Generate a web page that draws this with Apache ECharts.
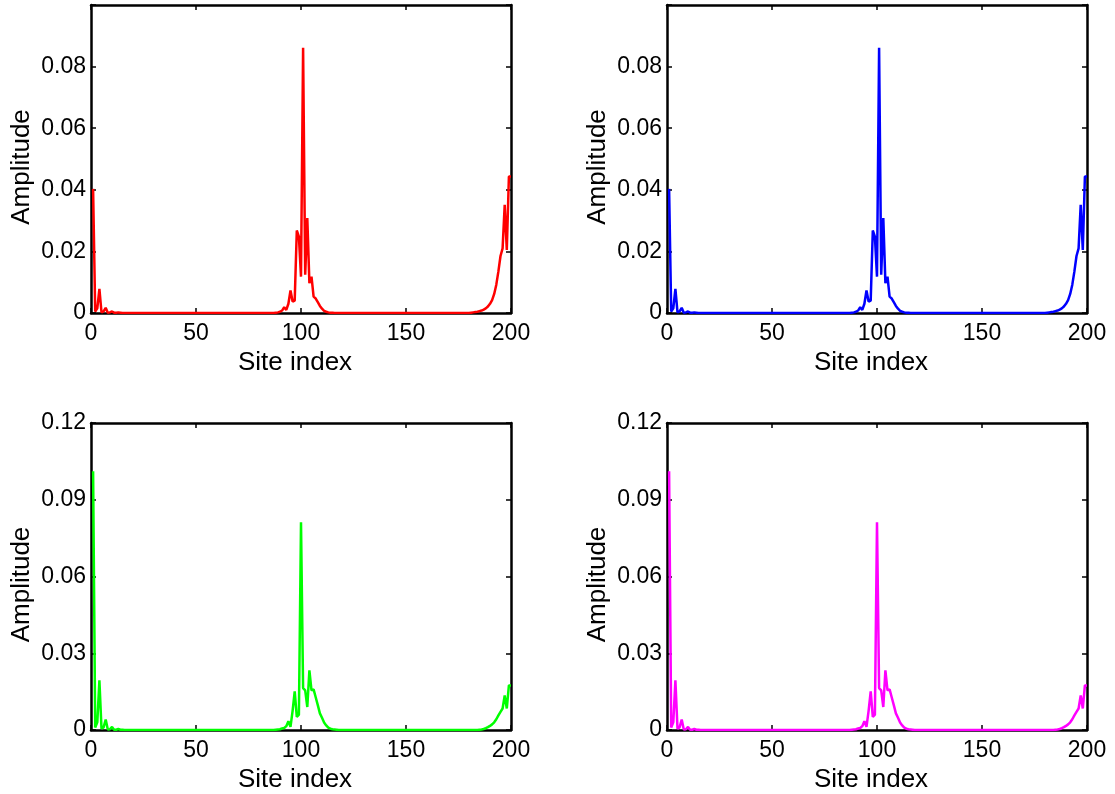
<!DOCTYPE html>
<html>
<head>
<meta charset="utf-8">
<script src="https://cdn.jsdelivr.net/npm/echarts@6/dist/echarts.min.js"></script>
<style>
    html, body { margin: 0; padding: 0; background: #fff; }
    #chart { width: 1115px; height: 794px; }
</style>
</head>
<body>
<div id="chart"></div>
<script>
    // site index 1..200
    const xTicks = [0, 50, 100, 150, 200]
    const yTicksTop = [0, 0.02, 0.04, 0.06, 0.08]
    const yTicksBottom = [0, 0.03, 0.06, 0.09, 0.12]

    // top row (red / blue share the same profile)
    const amplitudeTop = [
        0.0403, 0.0005, 0.0015, 0.0078, 0.0002, 0.0005, 0.0017, 0.0001, 0.0002, 0.0005,
        0.0001, 0.0001, 0.0002, 0.0001, 0, 0, 0, 0, 0, 0,
        0, 0, 0, 0, 0, 0, 0, 0, 0, 0,
        0, 0, 0, 0, 0, 0, 0, 0, 0, 0,
        0, 0, 0, 0, 0, 0, 0, 0, 0, 0,
        0, 0, 0, 0, 0, 0, 0, 0, 0, 0,
        0, 0, 0, 0, 0, 0, 0, 0, 0, 0,
        0, 0, 0, 0, 0, 0, 0, 0, 0, 0,
        0, 0, 0, 0, 0, 0, 0, 0.0001, 0.0002, 0.0004,
        0.0008, 0.0019, 0.0010, 0.0030, 0.0073, 0.0037, 0.0040, 0.0268, 0.0248, 0.0118,
        0.0861, 0.0124, 0.0308, 0.0097, 0.0118, 0.0053, 0.0047, 0.0035, 0.0023, 0.0014,
        0.0007, 0.0004, 0.0002, 0.0001, 0.0001, 0, 0, 0, 0, 0,
        0, 0, 0, 0, 0, 0, 0, 0, 0, 0,
        0, 0, 0, 0, 0, 0, 0, 0, 0, 0,
        0, 0, 0, 0, 0, 0, 0, 0, 0, 0,
        0, 0, 0, 0, 0, 0, 0, 0, 0, 0,
        0, 0, 0, 0, 0, 0, 0, 0, 0, 0,
        0, 0, 0, 0, 0, 0, 0, 0, 0, 0,
        0.0001, 0.0002, 0.0003, 0.0004, 0.0006, 0.0008, 0.0011, 0.0015, 0.0021, 0.0030,
        0.0042, 0.0062, 0.0092, 0.0135, 0.0185, 0.0210, 0.0351, 0.0205, 0.0443, 0.0443
    ]

    // bottom row (green / magenta share the same profile)
    const amplitudeBottom = [
        0.1011, 0.0010, 0.0030, 0.0194, 0.0005, 0.0010, 0.0041, 0.0002, 0.0003, 0.0012,
        0.0001, 0.0001, 0.0004, 0.0001, 0.0001, 0, 0, 0, 0, 0,
        0, 0, 0, 0, 0, 0, 0, 0, 0, 0,
        0, 0, 0, 0, 0, 0, 0, 0, 0, 0,
        0, 0, 0, 0, 0, 0, 0, 0, 0, 0,
        0, 0, 0, 0, 0, 0, 0, 0, 0, 0,
        0, 0, 0, 0, 0, 0, 0, 0, 0, 0,
        0, 0, 0, 0, 0, 0, 0, 0, 0, 0,
        0, 0, 0, 0, 0, 0, 0, 0.0001, 0.0002, 0.0003,
        0.0006, 0.0008, 0.0015, 0.0034, 0.0012, 0.0075, 0.0151, 0.0051, 0.0060, 0.0812,
        0.0164, 0.0155, 0.0090, 0.0233, 0.0155, 0.0159, 0.0128, 0.0097, 0.0065, 0.0048,
        0.0029, 0.0018, 0.0009, 0.0005, 0.0003, 0.0002, 0.0001, 0, 0, 0,
        0, 0, 0, 0, 0, 0, 0, 0, 0, 0,
        0, 0, 0, 0, 0, 0, 0, 0, 0, 0,
        0, 0, 0, 0, 0, 0, 0, 0, 0, 0,
        0, 0, 0, 0, 0, 0, 0, 0, 0, 0,
        0, 0, 0, 0, 0, 0, 0, 0, 0, 0,
        0, 0, 0, 0, 0, 0, 0, 0, 0, 0,
        0, 0, 0, 0, 0.0001, 0.0002, 0.0004, 0.0007, 0.0011, 0.0016,
        0.0022, 0.0030, 0.0042, 0.0057, 0.0071, 0.0084, 0.0135, 0.0084, 0.0174, 0.0174
    ]

    const panels = [
        { left: 91,  top: 5,   ticks: yTicksTop,    values: amplitudeTop,    color: '#ff0000' },
        { left: 667, top: 5,   ticks: yTicksTop,    values: amplitudeTop,    color: '#0000ff' },
        { left: 91,  top: 423, ticks: yTicksBottom, values: amplitudeBottom, color: '#00ff00' },
        { left: 667, top: 423, ticks: yTicksBottom, values: amplitudeBottom, color: '#ff00ff' }
    ]

    const font = 'Liberation Sans, Arial, Helvetica, sans-serif'
    const frame = { show: true, onZero: false, lineStyle: { color: '#000', width: 2.5 } }
    const tick = { show: true, inside: true, length: 5, lineStyle: { color: '#000', width: 1.5 } }

    const grid = [], xAxis = [], yAxis = [], series = []
    panels.forEach((p, i) => {
        const step = p.ticks[1] - p.ticks[0]
        const yMax = i < 2 ? 0.1 : p.ticks[p.ticks.length - 1]
        grid.push({ left: p.left, top: p.top, width: 420, height: 308 })

        // bottom + top x axes (box)
        xAxis.push({
            type: 'value', gridIndex: i, position: 'bottom', min: xTicks[0], max: xTicks[xTicks.length - 1],
            interval: xTicks[1] - xTicks[0],
            name: 'Site index', nameLocation: 'middle', nameGap: 37,
            nameTextStyle: { color: '#000', fontSize: 26, fontFamily: font, padding: [0, 12, 0, 0] },
            axisLine: frame, axisTick: tick, splitLine: { show: false },
            axisLabel: { color: '#000', fontSize: 23, fontFamily: font, margin: 9,
                showMinLabel: true, showMaxLabel: true }
        })
        xAxis.push({
            type: 'value', gridIndex: i, position: 'top', min: xTicks[0], max: xTicks[xTicks.length - 1],
            interval: xTicks[1] - xTicks[0],
            axisLine: frame, axisTick: tick, splitLine: { show: false }, axisLabel: { show: false }
        })

        // left + right y axes (box)
        yAxis.push({
            type: 'value', gridIndex: i, position: 'left', min: 0, max: yMax, interval: step,
            name: 'Amplitude', nameLocation: 'middle', nameGap: 56,
            nameTextStyle: { color: '#000', fontSize: 26, fontFamily: font, padding: [0, 16, 0, 0] },
            axisLine: frame, axisTick: tick, splitLine: { show: false },
            axisLabel: {
                color: '#000', fontSize: 23, fontFamily: font, margin: 5,
                showMaxLabel: true,
                formatter: v => (p.ticks.some(t => Math.abs(t - v) < 1e-9) ? String(+v.toFixed(2)) : '')
            }
        })
        yAxis.push({
            type: 'value', gridIndex: i, position: 'right', min: 0, max: yMax, interval: step,
            axisLine: frame, axisTick: tick, splitLine: { show: false }, axisLabel: { show: false }
        })

        series.push({
            type: 'line', xAxisIndex: i * 2, yAxisIndex: i * 2,
            showSymbol: false, symbol: 'none',
            lineStyle: { color: p.color, width: 2.5 },
            itemStyle: { color: p.color },
            data: p.values.map((v, k) => [k + 1, v])
        })
    })

    const mChart = echarts.init(document.getElementById('chart'))
    mChart.setOption({
        animation: false,
        backgroundColor: '#fff',
        grid: grid,
        xAxis: xAxis,
        yAxis: yAxis,
        series: series
    })
    window.addEventListener('resize', function() {
        mChart.resize()
    })
</script>
</body>
</html>
